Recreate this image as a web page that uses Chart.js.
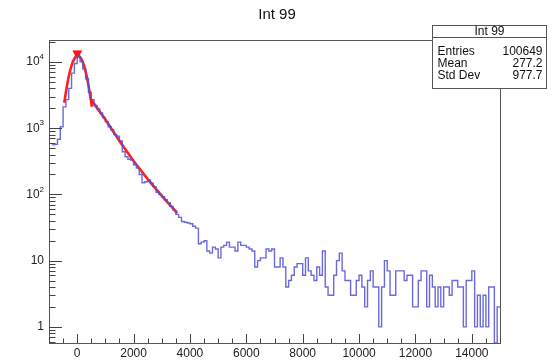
<!DOCTYPE html>
<html>
<head>
<meta charset="utf-8">
<script src="https://cdn.jsdelivr.net/npm/chart.js@4.4.1/dist/chart.umd.min.js"></script>
<style>
  html, body { margin: 0; padding: 0; background: #fff; }
  #c { display: block; }
</style>
</head>
<body>
<canvas id="c" width="554" height="362"></canvas>
<script>
// Histogram "Int 99": 160 bins of width 100 starting at -1000
const histTitle = 'Int 99';
const binStart = -1000;
const binWidth = 100;
const binCounts = [
  null, 560, 570, 680, 1050, 2100, 2700, 4000, 6800, 9500,
  12000, 10200, 7800, 5600, 3500, 2700, 2200, 1950, 1700, 1450,
  1250, 1050, 940, 800, 760, 640, 440, 370, 340, 330,
  280, 250, 200, 150, 155, 165, 148, 130, 108, 100,
  92, 83, 75, 66, 58, 50, 45, 39, 38, 37,
  36, 33, 31, 18, 19, 20, 14, 13, 16, 15,
  11, 16, 17, 19, 16, 16, 14, 19, 17, 17,
  16, 15, 14, 8, 10, 11, 11, 15, 14, 15,
  8, 8, 11, 8, 4, 5, 6, 8, 9, 9,
  6, 11, 7, 6, 5, 8, 6, 14, 4, 3,
  3, 6, 10, 13, 7, 5, 5, 3, 3, 5,
  6, 4, 2, 5, 7, 4, 4, 1, 4, 10,
  7, 3, 3, 7, 7, 7, 5, 6, 6, 2,
  2, 5, 7, 7, 2, 6, 4, 2, 4, 2,
  4, 4, 3, 5, 5, 4, 4, 1, 5, 5,
  7, 1, 3, 1, 3, 1, 4, 4, 0, 2
];

// Gaussian fit around the main peak
const gausX = [-460, -350, -250, -150, -50, 20, 100, 200, 300, 400, 520];
const gausY = [2420, 4710, 7440, 10170, 12080, 12500, 11940, 9920, 7160, 4470, 2110];

// Exponential fit on the falling edge
const expoX = [480, 1000, 1500, 2000, 2500, 3000, 3550];
const expoY = [2750, 1350, 640, 320, 170, 95, 52];

// Found peak marker
const peakX = [5];
const peakY = [13500];

// Axes
const xMin = -1000, xMax = 15000;
const yMin = 0.57, yMax = 21500;
const xMajorTicks = [0, 2000, 4000, 6000, 8000, 10000, 12000, 14000];
const xMinorStep = 500;
const yDecades = [0, 1, 2, 3, 4];

// Statistics box
const statNames = ['Entries', 'Mean', 'Std Dev'];
const statValues = ['100649', '277.2', '977.7'];

const FONT = '"Liberation Sans", Arial, Helvetica, sans-serif';

// Step outline of the histogram
function histOutline() {
  const pts = [];
  binCounts.forEach((c, i) => {
    if (c === null) return;
    const lo = binStart + i * binWidth;
    const v = c > 0 ? c : yMin;
    pts.push({ x: lo, y: v }, { x: lo + binWidth, y: v });
  });
  return pts;
}

const zip = (xs, ys) => xs.map((x, i) => ({ x, y: ys[i] }));

const framePlugin = {
  id: 'rootFrame',
  afterDraw(chart) {
    const ctx = chart.ctx;
    const a = chart.chartArea;
    const xs = chart.scales.x, ys = chart.scales.y;
    ctx.save();

    // frame
    ctx.strokeStyle = '#555';
    ctx.lineWidth = 1;
    ctx.strokeRect(a.left + 0.5, a.top + 0.5, a.right - a.left, a.bottom - a.top);

    // x ticks (inside, from bottom)
    ctx.strokeStyle = '#444';
    ctx.beginPath();
    for (let v = xMin; v <= xMax; v += xMinorStep) {
      const px = Math.round(xs.getPixelForValue(v)) + 0.5;
      const len = xMajorTicks.includes(v) ? 9 : 4.5;
      ctx.moveTo(px, a.bottom);
      ctx.lineTo(px, a.bottom - len);
    }
    // y ticks (inside, from left)
    for (let d = -1; d <= 4; d++) {
      for (let m = 1; m <= 9; m++) {
        const v = m * Math.pow(10, d);
        if (v < yMin || v > yMax) continue;
        const py = Math.round(ys.getPixelForValue(v)) + 0.5;
        const len = m === 1 ? 13 : 6.5;
        ctx.moveTo(a.left, py);
        ctx.lineTo(a.left + len, py);
      }
    }
    ctx.stroke();

    // x labels
    ctx.fillStyle = '#222';
    ctx.font = '12px ' + FONT;
    ctx.textAlign = 'center';
    ctx.textBaseline = 'middle';
    xMajorTicks.forEach(v => {
      ctx.fillText(String(v), xs.getPixelForValue(v), 354);
    });

    // y labels
    yDecades.forEach(e => {
      const py = ys.getPixelForValue(Math.pow(10, e));
      const right = a.left - 5;
      ctx.textBaseline = 'middle';
      if (e === 0) {
        ctx.font = '12px ' + FONT;
        ctx.textAlign = 'right';
        ctx.fillText('1', right, py);
      } else if (e === 1) {
        ctx.font = '12px ' + FONT;
        ctx.textAlign = 'right';
        ctx.fillText('10', right, py);
      } else {
        ctx.font = '8px ' + FONT;
        ctx.textAlign = 'right';
        const sup = String(e);
        const sw = ctx.measureText(sup).width;
        ctx.fillText(sup, right, py - 5);
        ctx.font = '12px ' + FONT;
        ctx.fillText('10', right - sw, py);
      }
    });

    // title
    ctx.font = '15px ' + FONT;
    ctx.textAlign = 'center';
    ctx.textBaseline = 'middle';
    ctx.fillStyle = '#111';
    ctx.fillText(histTitle, 277, 15);

    // statistics box
    const bx = 432.5, by = 25.5, bw = 114, bh = 63;
    ctx.fillStyle = '#fff';
    ctx.fillRect(bx, by, bw, bh);
    ctx.strokeStyle = '#555';
    ctx.strokeRect(bx, by, bw, bh);
    ctx.beginPath();
    ctx.moveTo(bx, 37.5);
    ctx.lineTo(bx + bw, 37.5);
    ctx.stroke();
    ctx.fillStyle = '#111';
    ctx.font = '12px ' + FONT;
    ctx.textAlign = 'center';
    ctx.fillText(histTitle, bx + bw / 2, 31.5);
    statNames.forEach((n, i) => {
      const ty = 52 + i * 11.7;
      ctx.textAlign = 'left';
      ctx.fillText(n, bx + 5, ty);
      ctx.textAlign = 'right';
      ctx.fillText(statValues[i], bx + bw - 4, ty);
    });
    ctx.restore();
  }
};

new Chart(document.getElementById('c'), {
  type: 'line',
  data: {
    datasets: [
      {
        label: 'hist',
        data: histOutline(),
        borderColor: 'rgba(80,80,215,0.85)',
        borderWidth: 1.4,
        pointRadius: 0,
        fill: false,
        tension: 0
      },
      {
        label: 'gaus',
        data: zip(gausX, gausY),
        borderColor: 'rgba(255,20,20,0.95)',
        borderWidth: 2.6,
        pointRadius: 0,
        fill: false,
        cubicInterpolationMode: 'monotone'
      },
      {
        label: 'expo',
        data: zip(expoX, expoY),
        borderColor: 'rgba(255,20,20,0.95)',
        borderWidth: 2.6,
        pointRadius: 0,
        fill: false,
        tension: 0
      },
      {
        label: 'peak',
        data: zip(peakX, peakY),
        showLine: false,
        pointStyle: 'triangle',
        rotation: 180,
        pointRadius: 5,
        pointBackgroundColor: 'rgb(255,20,20)',
        pointBorderColor: 'rgb(255,20,20)',
        pointBorderWidth: 1
      }
    ]
  },
  options: {
    responsive: false,
    animation: false,
    devicePixelRatio: 1,
    layout: { padding: { left: 49, right: 54, top: 40, bottom: 19 } },
    plugins: {
      legend: { display: false },
      tooltip: { enabled: false },
      title: { display: false }
    },
    scales: {
      x: { type: 'linear', min: xMin, max: xMax, display: false },
      y: { type: 'logarithmic', min: yMin, max: yMax, display: false }
    }
  },
  plugins: [framePlugin]
});
</script>
</body>
</html>
